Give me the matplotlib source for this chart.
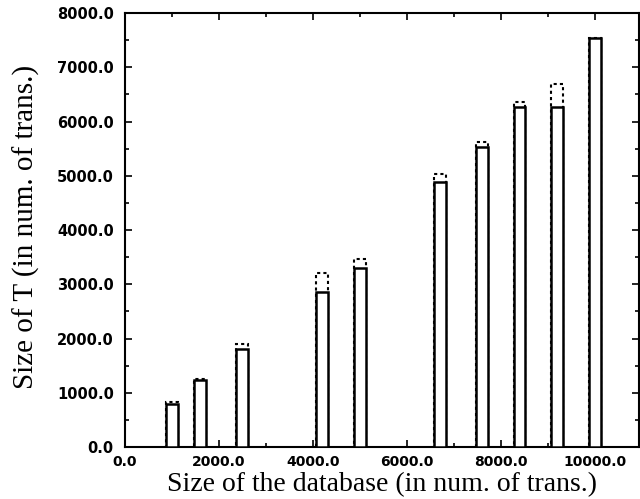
import matplotlib
matplotlib.use("Agg")
import matplotlib.pyplot as plt
from matplotlib.ticker import MultipleLocator, FormatStrFormatter

db_size = [1000, 1600, 2500, 4200, 5000, 6700, 7600, 8400, 9200, 10000]
t_upper = [830, 1250, 1900, 3210, 3465, 5030, 5620, 6360, 6690, 7540]
t_actual = [800, 1240, 1805, 2860, 3300, 4885, 5530, 6270, 6270, 7540]

fig = plt.figure(figsize=(6.4, 4.99), dpi=100)
ax = fig.add_axes([0.195, 0.104, 0.804, 0.870])

bw = 250
ax.bar(db_size, t_upper, width=bw, facecolor="white", edgecolor="black",
       linewidth=1.5, linestyle=(0, (1.5, 1.5)), zorder=2)
ax.bar(db_size, t_actual, width=bw, facecolor="white", edgecolor="black",
       linewidth=1.8, zorder=3)

ax.set_xlim(0, 10950)
ax.set_ylim(0, 8000)
ax.xaxis.set_major_locator(MultipleLocator(2000))
ax.xaxis.set_minor_locator(MultipleLocator(1000))
ax.yaxis.set_major_locator(MultipleLocator(1000))
ax.yaxis.set_minor_locator(MultipleLocator(500))
ax.xaxis.set_major_formatter(FormatStrFormatter("%.1f"))
ax.yaxis.set_major_formatter(FormatStrFormatter("%.1f"))
ax.tick_params(which="both", direction="in", top=True, right=True, width=1.2)
ax.tick_params(which="major", length=5)
ax.tick_params(which="minor", length=3)
ax.tick_params(axis="x", which="major", pad=6)
ax.tick_params(axis="y", which="major", pad=8)
for lab in ax.get_xticklabels() + ax.get_yticklabels():
    lab.set_fontfamily("DejaVu Sans")
    lab.set_fontweight("bold")
    lab.set_fontsize(10)
for lab in ax.get_yticklabels():
    lab.set_fontsize(10.5)
for s in ax.spines.values():
    s.set_linewidth(1.5)

ax.set_xlabel("Size of the database (in num. of trans.)", family="Liberation Serif",
              fontsize=20)
ax.set_ylabel("Size of T (in num. of trans.)", family="Liberation Serif",
              fontsize=21)
ax.xaxis.set_label_coords(0.5, -0.057)
ax.yaxis.set_label_coords(-0.165, 0.508)

fig.savefig("out.png", dpi=100)
